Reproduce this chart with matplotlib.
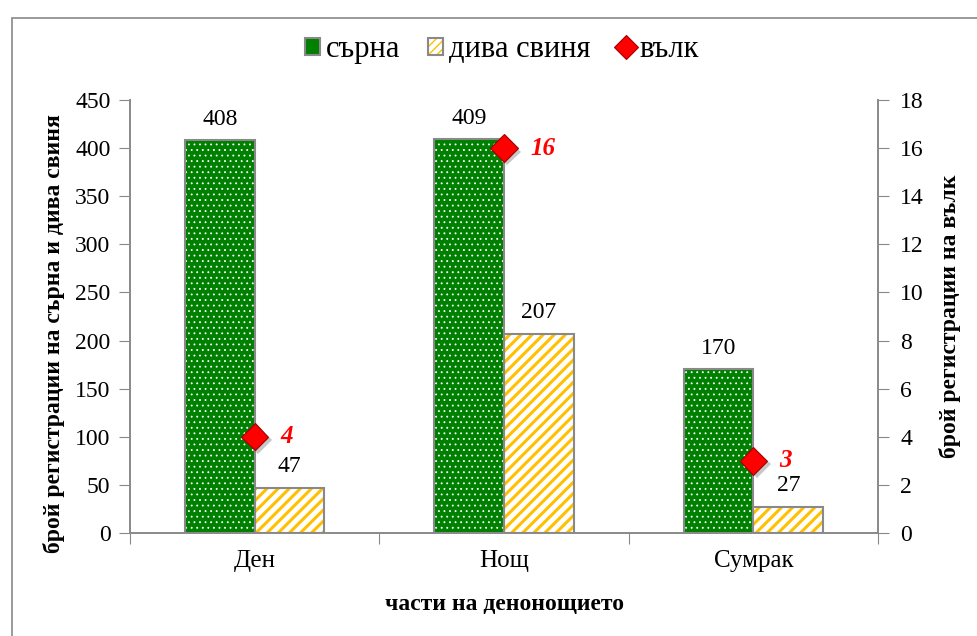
import matplotlib.pyplot as plt
import matplotlib.patches as patches
import matplotlib.patheffects as pe
from matplotlib.lines import Line2D
import numpy as np

plt.rcParams['font.family'] = ['Liberation Serif', 'DejaVu Serif']

# data
categories = ['Ден', 'Нощ', 'Сумрак']
roe_deer = [408, 409, 170]
wild_boar = [47, 207, 27]
wolf = [4, 16, 3]

green = '#008000'
yellow = '#FFC000'
grey = '#898989'

fig = plt.figure(figsize=(9.78, 6.36), dpi=100)
ax = fig.add_axes([0.1329, 0.162, 0.7649, 0.6808])
ax2 = ax.twinx()

x = np.arange(len(categories))
w = 0.28

# roe deer: green with small white dots
with plt.rc_context({'hatch.linewidth': 0.6}):
    ax.bar(x - w / 2, roe_deer, w, color=green, edgecolor='white', hatch='...', linewidth=0, zorder=2)
ax.bar(x - w / 2, roe_deer, w, fill=False, edgecolor=grey, linewidth=1.5, zorder=3)
# wild boar: white with yellow stripes
with plt.rc_context({'hatch.linewidth': 2.2}):
    ax.bar(x + w / 2, wild_boar, w, color='white', edgecolor=yellow, hatch='///', linewidth=0, zorder=2)
ax.bar(x + w / 2, wild_boar, w, fill=False, edgecolor=grey, linewidth=1.5, zorder=3)

for xi, v in zip(x, roe_deer):
    ax.text(xi - w / 2, v + 11, str(v), ha='center', va='bottom', fontsize=17)
for xi, v in zip(x, wild_boar):
    ax.text(xi + w / 2, v + 11, str(v), ha='center', va='bottom', fontsize=17)

# wolf on secondary axis
shadow = [pe.SimplePatchShadow(offset=(2.5, -2.5), shadow_rgbFace='#606060', alpha=0.35), pe.Normal()]
ax2.plot(x, wolf, linestyle='none', marker='D', markersize=14, color='#FF0000',
         markeredgecolor='#A00000', markeredgewidth=0.8, zorder=5, path_effects=shadow)
for xi, v in zip(x, wolf):
    ax2.text(xi + 0.105, v, str(v), ha='left', va='center', fontsize=18,
             color='#FF0000', fontweight='bold', fontstyle='italic')

ax.set_xlim(-0.5, 2.5)
ax.set_ylim(0, 450)
ax.set_yticks(np.arange(0, 451, 50))
ax2.set_ylim(0, 18)
ax2.set_yticks(np.arange(0, 19, 2))

ax.set_xticks([-0.5, 0.5, 1.5, 2.5])
ax.set_xticklabels([])
ax.set_xticks(x, minor=True)
ax.set_xticklabels(categories, minor=True, fontsize=18)
ax.tick_params(axis='x', which='minor', length=0, pad=12)
ax.tick_params(axis='x', which='major', length=8, color=grey, direction='out')
ax.tick_params(axis='y', length=8, color=grey, labelsize=17, pad=6)
ax2.tick_params(axis='y', length=8, color=grey, labelsize=17, pad=8)

for a in (ax, ax2):
    a.spines['top'].set_visible(False)
    for s in ('left', 'right', 'bottom'):
        a.spines[s].set_color(grey)
        a.spines[s].set_linewidth(1.2)

ax.set_ylabel('брой регистрации на сърна и дива свиня', fontsize=17, fontweight='bold')
ax.yaxis.set_label_coords(-0.087, 0.46)
ax2.set_ylabel('брой регистрации на вълк', fontsize=17, fontweight='bold', labelpad=11)
ax.set_xlabel('части на денонощието', fontsize=17, fontweight='bold', labelpad=16)

with plt.rc_context({'hatch.linewidth': 1.8}):
    boar_fill = patches.Patch(facecolor='white', edgecolor=yellow, hatch='////', linewidth=0)
handles = [
    patches.Patch(facecolor=green, edgecolor=grey, linewidth=1.5),
    (boar_fill, patches.Patch(fill=False, edgecolor=grey, linewidth=1.5)),
    Line2D([], [], linestyle='none', marker='D', markersize=12, color='#FF0000',
           markeredgecolor='#A00000', markeredgewidth=0.8),
]
leg = fig.legend(handles, ['сърна', 'дива свиня', 'вълк'], loc='center', ncol=3,
                 bbox_to_anchor=(0.513, 0.922), frameon=False, fontsize=22,
                 handlelength=0.5, handleheight=0.5, handletextpad=0.2, columnspacing=0.9)

# outer border of the chart area
fig.patches.append(patches.Rectangle((12 / 978, -0.01), 1.2, 1 - 18 / 636 + 0.01,
                                     transform=fig.transFigure, fill=False,
                                     edgecolor=grey, linewidth=1.2))

fig.savefig('out.png', dpi=100)
